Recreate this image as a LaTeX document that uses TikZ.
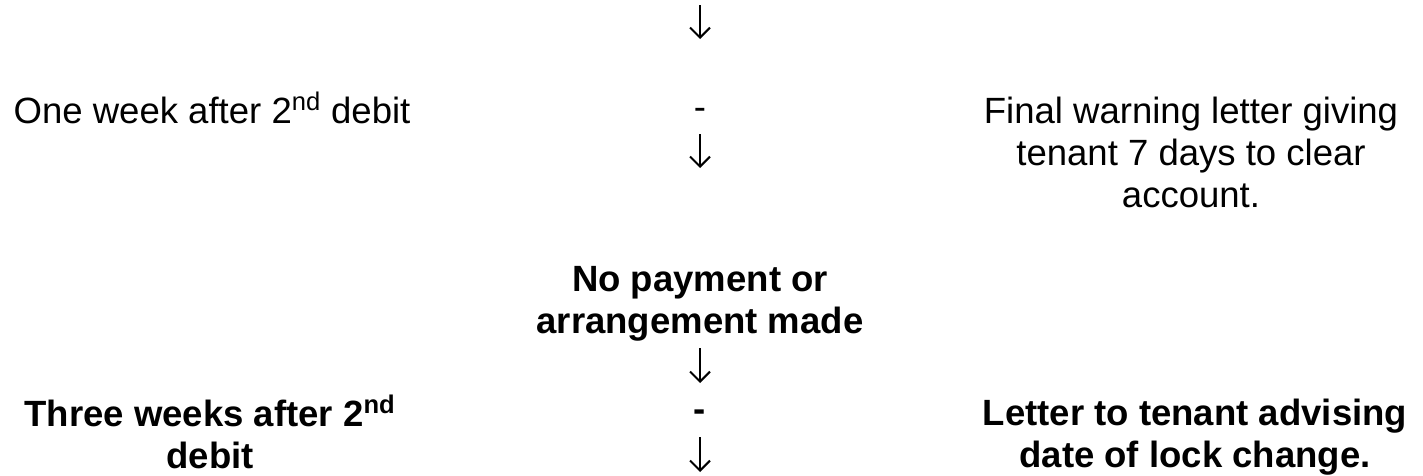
\documentclass[tikz,border=0pt]{standalone}
\usepackage{fontspec}
\setmainfont{Liberation Sans}
\usetikzlibrary{positioning}
\usetikzlibrary{arrows.meta}
\tikzset{txt/.style = {inner sep = 0, align = center, anchor = base,
                       font = \fontsize{27.4pt}{31.5pt}\selectfont}}
\tikzset{btxt/.style = {txt, font = \fontsize{27.4pt}{31.5pt}\selectfont\bfseries}}
\tikzset{darr/.style = {line width = 1pt,
                        -{Straight Barb[length = 7.5pt, width = 15pt, line width = 1.5pt]}}}

\begin{document}
\begin{tikzpicture}[x=0.75pt, y=-0.75pt]
    \useasboundingbox (0,0) rectangle (1423,475);

    \coordinate (a0s) at (700,5);
    \coordinate (a0e) at (700,39);
    \draw[darr] (a0s) -- (a0e);

    % first step (multi-line nodes sit on their last line)
    \node[txt] (when1) at (212,123) {One week after 2\textsuperscript{nd} debit};
    \node[txt, anchor = center] (d1) at (700,113.5) {-};
    \coordinate (a1s) at (700,134);
    \coordinate (a1e) at (700,168);
    \draw[darr] (a1s) -- (a1e);
    \node[txt] (what1) at (1191,207) {Final warning letter giving\\tenant 7 days to clear\\account.};

    % no payment
    \node[btxt] (nopay) at (700,333) {No payment or\\arrangement made};
    \coordinate (a2s) at (700,348);
    \coordinate (a2e) at (700,383);
    \draw[darr] (a2s) -- (a2e);

    % second step
    \node[btxt] (when2) at (210,468) {Three weeks after 2\textsuperscript{nd}\\debit};
    \node[btxt, anchor = center] (d2) at (700,416) {-};
    \coordinate (a3s) at (700,437);
    \coordinate (a3e) at (700,472);
    \draw[darr] (a3s) -- (a3e);
    \node[btxt] (what2) at (1195,467) {Letter to tenant advising\\date of lock change.};
  \end{tikzpicture}
\end{document}
